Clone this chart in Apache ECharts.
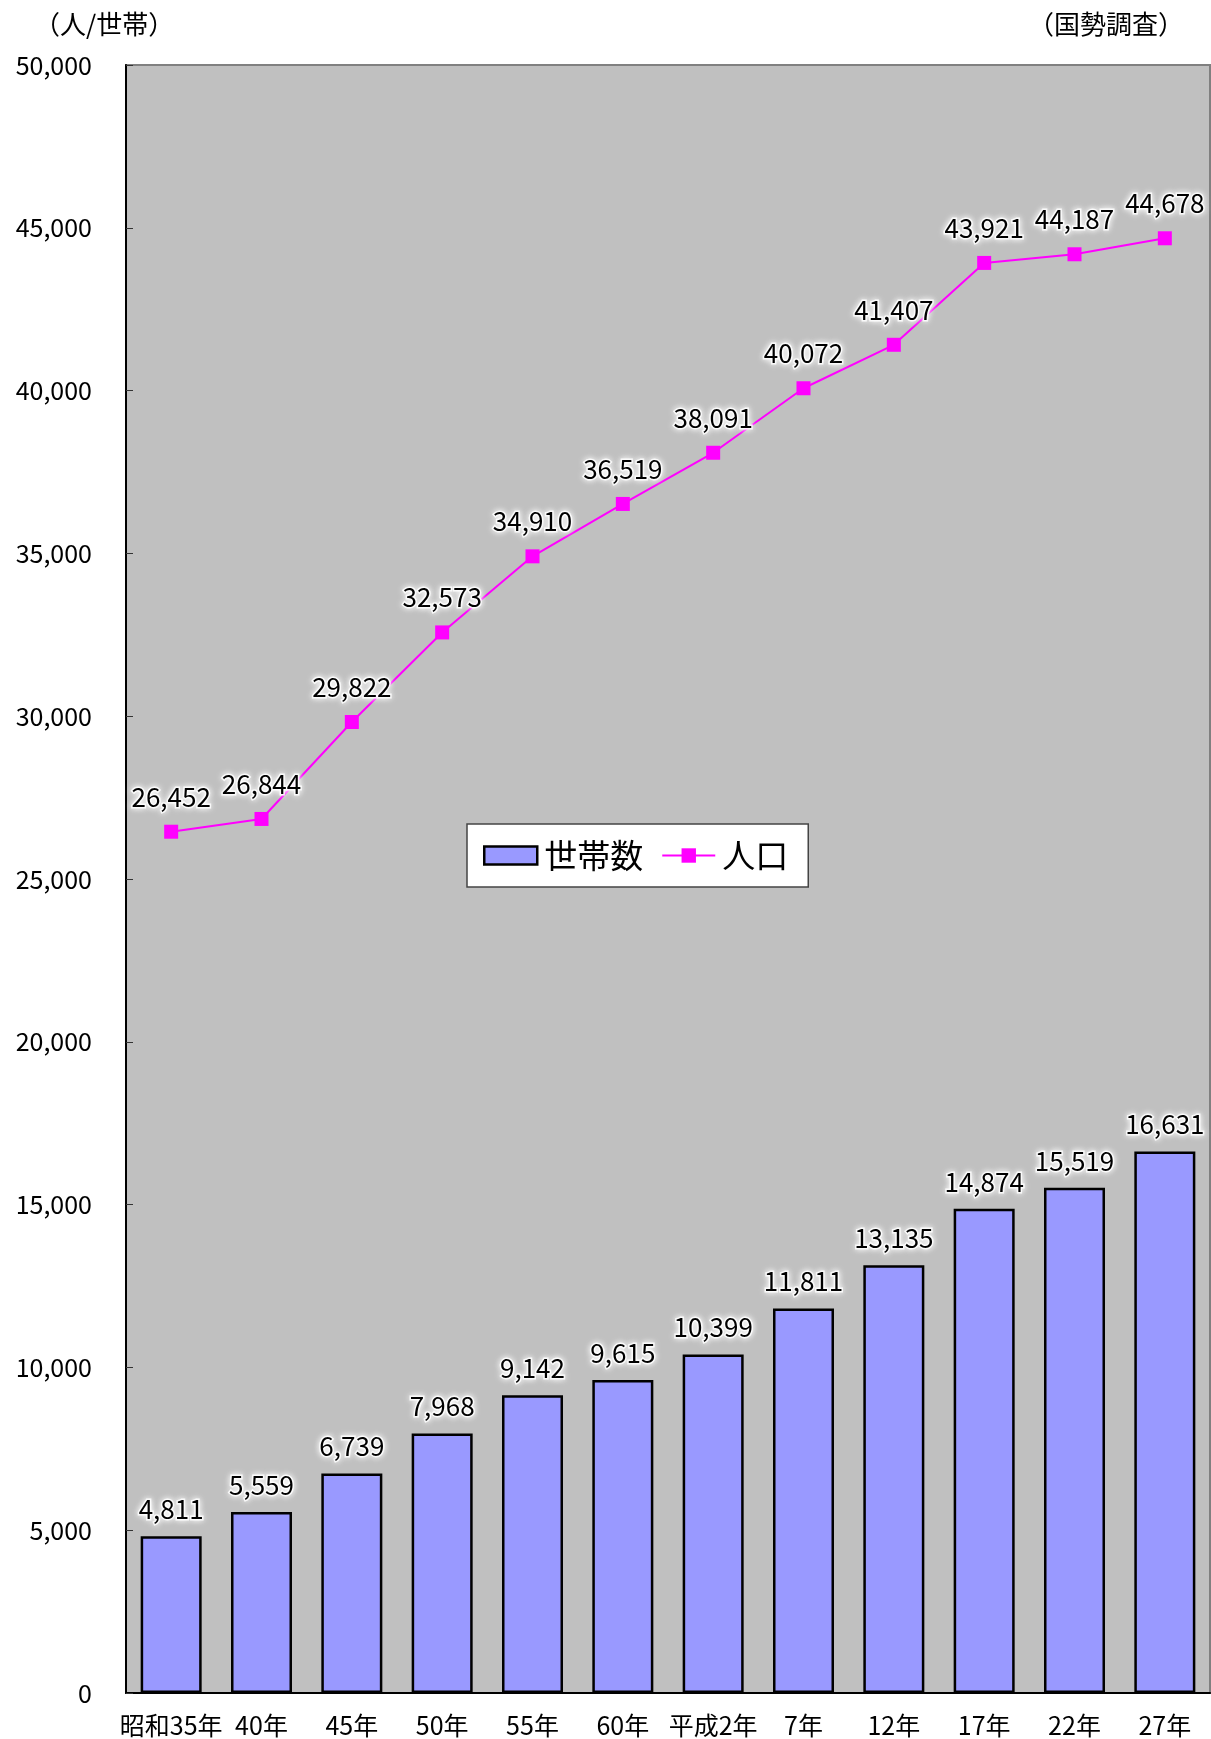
<!DOCTYPE html>
<html style="height: 100%">
<head>
    <meta charset="utf-8">
    <title>世帯数・人口</title>
    <style>
    body { margin: 0; background: #fff; }
    #container { width: 1211px; height: 1739px; }
    </style>
</head>
<body>
    <div id="container"></div>
    <script src="https://cdn.jsdelivr.net/npm/echarts@6/dist/echarts.min.js"></script>
    <script>
    // 国勢調査
    var years = ['昭和35年', '40年', '45年', '50年', '55年', '60年', '平成2年', '7年', '12年', '17年', '22年', '27年'];
    var households = [4811, 5559, 6739, 7968, 9142, 9615, 10399, 11811, 13135, 14874, 15519, 16631];
    var population = [26452, 26844, 29822, 32573, 34910, 36519, 38091, 40072, 41407, 43921, 44187, 44678];

    var FONT = '"Noto Sans CJK JP", sans-serif';

    function fmt(v) {
        return String(v).replace(/\B(?=(\d{3})+(?!\d))/g, ',');
    }

    var glow = {
        color: '#000',
        fontSize: 26,
        fontFamily: FONT,
        textBorderColor: 'rgba(255,255,255,0.85)',
        textBorderWidth: 3,
        textShadowColor: '#fff',
        textShadowBlur: 6
    };

    var chart = echarts.init(document.getElementById('container'));

    var option = {
        animation: false,
        textStyle: { fontFamily: FONT },
        graphic: [
            { type: 'text', left: 34, top: 11, style: { text: '（人/世帯）', fontSize: 26, fontFamily: FONT, fill: '#000' } },
            { type: 'text', right: 27, top: 11, style: { text: '（国勢調査）', fontSize: 26, fontFamily: FONT, fill: '#000' } }
        ],
        grid: {
            left: 126, right: 1, top: 65, bottom: 46,
            show: true,
            backgroundColor: '#C0C0C0',
            borderColor: '#808080',
            borderWidth: 2
        },
        legend: {
            left: 467, top: 824,
            backgroundColor: '#fff',
            borderColor: '#444',
            borderWidth: 1.5,
            borderRadius: 0,
            padding: [15, 20, 15, 16],
            itemGap: 18,
            itemWidth: 53,
            itemHeight: 18,
            textStyle: { fontSize: 33, color: '#000', fontFamily: FONT, padding: [0, 0, 0, 2] },
            data: [
                { name: '世帯数', icon: 'rect', itemStyle: { color: '#9999FF', borderColor: '#000', borderWidth: 2.5 } },
                { name: '人口' }
            ]
        },
        xAxis: {
            type: 'category',
            data: years,
            axisLine: { lineStyle: { color: '#000', width: 2 } },
            axisTick: { inside: true, length: 6, lineStyle: { color: '#333' } },
            axisLabel: { color: '#000', fontSize: 25, margin: 20, interval: 0 }
        },
        yAxis: {
            type: 'value',
            min: 0, max: 50000, interval: 5000,
            axisLine: { show: true, lineStyle: { color: '#000', width: 2 } },
            axisTick: { show: true, inside: true, length: 7, lineStyle: { color: '#333' } },
            splitLine: { show: false },
            axisLabel: { color: '#000', fontSize: 25, margin: 34, formatter: fmt }
        },
        series: [
            {
                name: '世帯数',
                type: 'bar',
                data: households,
                barWidth: 61,
                itemStyle: { color: '#9999FF', borderColor: '#000', borderWidth: 2.5 },
                label: Object.assign({ show: true, position: 'top', distance: 14, formatter: function (p) { return fmt(p.value); } }, glow)
            },
            {
                name: '人口',
                type: 'line',
                data: population,
                symbol: 'rect',
                symbolSize: 14,
                lineStyle: { color: '#FF00FF', width: 2 },
                itemStyle: { color: '#FF00FF' },
                label: Object.assign({ show: true, position: 'top', distance: 15, formatter: function (p) { return fmt(p.value); } }, glow)
            }
        ]
    };

    chart.setOption(option);
    </script>
</body>
</html>
